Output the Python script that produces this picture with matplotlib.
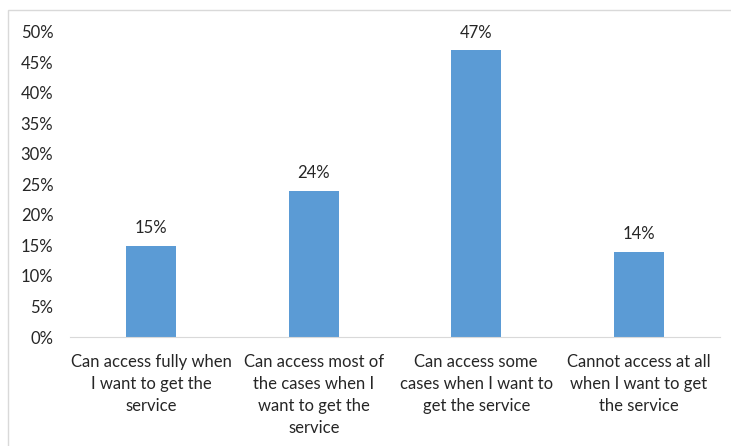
import matplotlib.pyplot as plt
from matplotlib.patches import Rectangle

plt.rcParams['font.family'] = ['Lato', 'DejaVu Sans']

categorias = ["Can access fully when\nI want to get the\nservice",
              "Can access most of\nthe cases when I\nwant to get the\nservice",
              "Can access some\ncases when I want to\nget the service",
              "Cannot access at all\nwhen I want to get\nthe service"]
valores = [15, 24, 47, 14]
ticks_y = [0, 5, 10, 15, 20, 25, 30, 35, 40, 45, 50]

AZUL = '#5B9BD5'
GRIS = '#D9D9D9'

fig = plt.figure(figsize=(7.31, 4.46), dpi=100)
ax = fig.add_axes([70/731, 1 - 337/446, 650/731, 305/446])

x = range(len(valores))
barras = ax.bar(x, valores, width=0.31, color=AZUL)

# etiquetas de valor arriba de cada barra
for b, v in zip(barras, valores):
    ax.annotate(f"{v}%", (b.get_x() + b.get_width()/2, v), xytext=(0, 7),
                textcoords='offset points', ha='center', va='bottom',
                fontsize=12, color='#262626')

ax.set_xlim(-0.5, len(valores) - 0.5)
ax.set_ylim(0, 50)
ax.set_yticks(ticks_y)
ax.set_yticklabels([f"{t}%" for t in ticks_y])
ax.set_xticks(list(x))
ax.set_xticklabels(categorias, linespacing=1.47)
ax.tick_params(axis='both', length=0, labelsize=12, colors='#262626')
ax.tick_params(axis='x', pad=12)
ax.tick_params(axis='y', pad=12)

for lado in ['top', 'right', 'left']:
    ax.spines[lado].set_visible(False)
ax.spines['bottom'].set_color(GRIS)

# marco del grafico
fig.patches.append(Rectangle((8/731, -0.1), 1.0, 1 - 10/446 + 0.1,
                             transform=fig.transFigure, fill=False,
                             edgecolor=GRIS, linewidth=1))

fig.savefig('out.png', dpi=100)
